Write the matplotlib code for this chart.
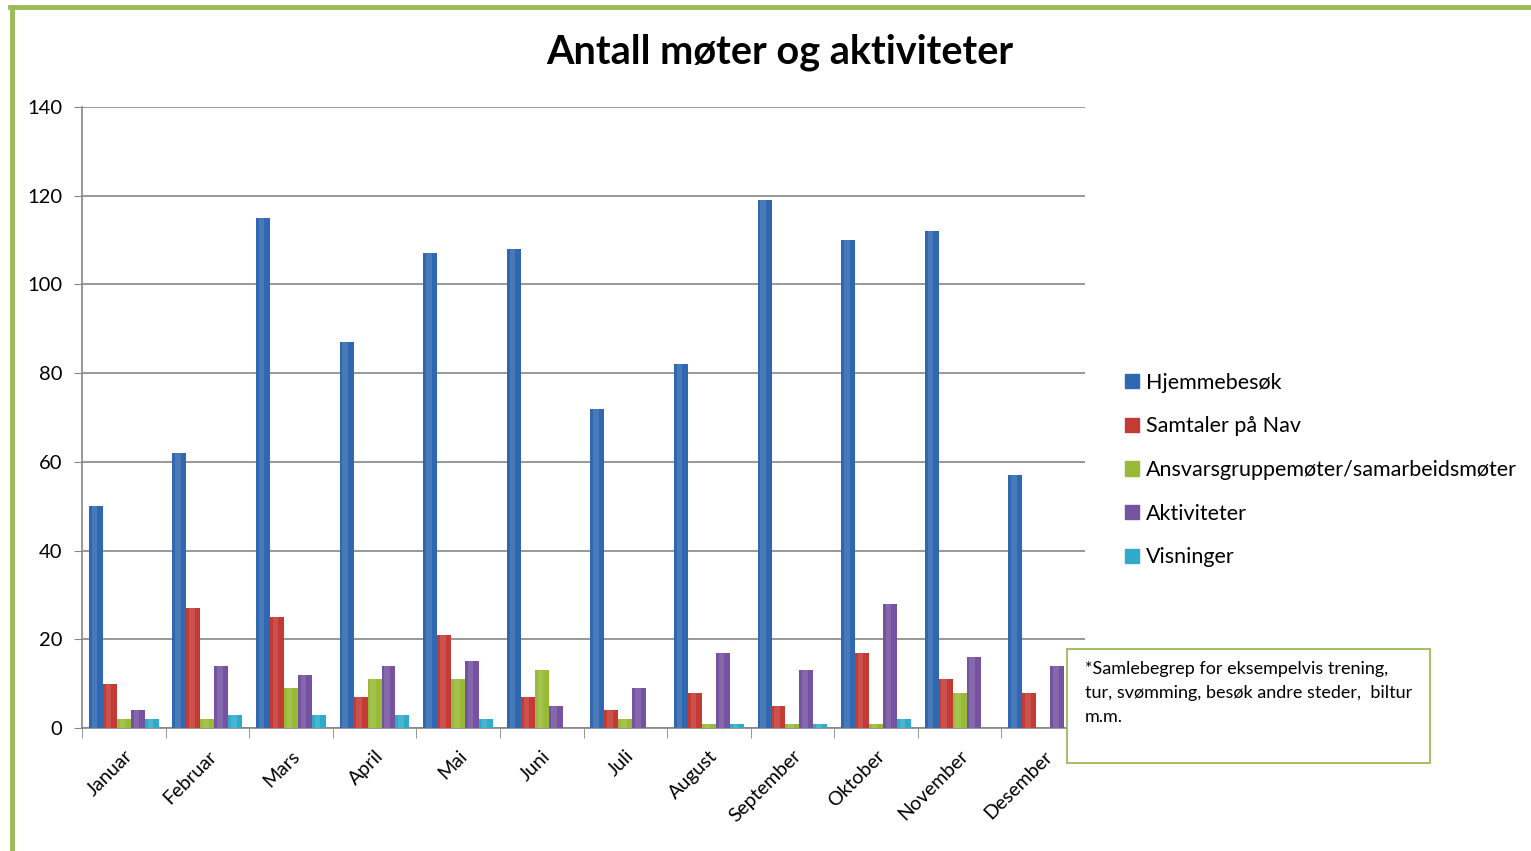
import matplotlib.pyplot as plt
import numpy as np
from matplotlib.patches import Rectangle
from matplotlib.lines import Line2D

plt.rcParams['font.family'] = ['Lato', 'DejaVu Sans']

months = ["Januar", "Februar", "Mars", "April", "Mai", "Juni", "Juli",
          "August", "September", "Oktober", "November", "Desember"]
series_names = ["Hjemmebesøk", "Samtaler på Nav",
                "Ansvarsgruppemøter/samarbeidsmøter", "Aktiviteter", "Visninger"]
hjemmebesok = [50, 62, 115, 87, 107, 108, 72, 82, 119, 110, 112, 57]
samtaler = [10, 27, 25, 7, 21, 7, 4, 8, 5, 17, 11, 8]
ansvarsgruppe = [2, 2, 9, 11, 11, 13, 2, 1, 1, 1, 8, 0]
aktiviteter = [4, 14, 12, 14, 15, 5, 9, 17, 13, 28, 16, 14]
visninger = [2, 3, 3, 3, 2, 0, 0, 1, 1, 2, 0, 0]

colors = ["#2F68B0", "#C43A35", "#98BA36", "#7553A0", "#2FAACA"]
W, H = 1531, 851

fig = plt.figure(figsize=(W / 100, H / 100), dpi=100)
ax = fig.add_axes([82 / W, 1 - 728 / H, (1085 - 82) / W, (728 - 107) / H])

x = np.arange(len(months))
w = 0.167
data = [hjemmebesok, samtaler, ansvarsgruppe, aktiviteter, visninger]
for k, (vals, col, name) in enumerate(zip(data, colors, series_names)):
    pos = x + (k - 2) * w
    ax.bar(pos, vals, width=w, color=col, edgecolor="none", zorder=3, label=name)
    # soft highlight for a cylinder look
    ax.bar(pos - w * 0.1, vals, width=w * 0.4, color="white", alpha=0.12,
           edgecolor="none", zorder=4)

ax.set_xlim(-0.5, 11.5)
ax.set_ylim(0, 140)
ax.set_yticks(range(0, 141, 20))
ax.yaxis.grid(True, color="#868686", lw=1.2, zorder=0)
ax.tick_params(axis="y", length=6, color="#868686", labelsize=14.5, pad=8)
ax.set_xticks(x)
ax.set_xticklabels(months, rotation=45, ha="right", rotation_mode="anchor",
                   fontsize=14)
ax.tick_params(axis="x", length=0, pad=14)
ax.set_xticks(np.arange(-0.5, 12, 1), minor=True)
ax.tick_params(axis="x", which="minor", length=7, color="#868686")
for side in ["top", "right"]:
    ax.spines[side].set_visible(False)
for side in ["left", "bottom"]:
    ax.spines[side].set_color("#868686")
    ax.spines[side].set_linewidth(1.2)

fig.text(780 / W, 1 - 52 / H, "Antall møter og aktiviteter", fontsize=28.5,
         fontweight="bold", ha="center", va="center")

handles = [Rectangle((0, 0), 1, 1, color=c) for c in colors]
leg = fig.legend(handles, series_names, loc="upper left",
                 bbox_to_anchor=(1114 / W, 1 - 362 / H), frameon=False,
                 fontsize=15.5, handlelength=0.65, handleheight=0.65,
                 handletextpad=0.35, labelspacing=1.1, borderpad=0)

# note box
fig.patches.append(Rectangle((1067 / W, 1 - 763 / H), (1430 - 1067) / W,
                             (763 - 649) / H, transform=fig.transFigure,
                             facecolor="white", edgecolor="#9BBB59", lw=1.3,
                             zorder=5))
fig.text(1085 / W, 1 - 661 / H,
         "*Samlebegrep for eksempelvis trening,\n"
         "tur, svømming, besøk andre steder,  biltur\nm.m.",
         fontsize=13, ha="left", va="top", linespacing=1.6, zorder=6)

# green frame
fig.add_artist(Line2D([12 / W, 12 / W], [0, 1 - 7 / H], color="#9BBB59",
                      lw=3.5, transform=fig.transFigure))
fig.add_artist(Line2D([10 / W, 1], [1 - 7 / H, 1 - 7 / H], color="#9BBB59",
                      lw=3.5, transform=fig.transFigure))

fig.savefig("out.png", dpi=100)
